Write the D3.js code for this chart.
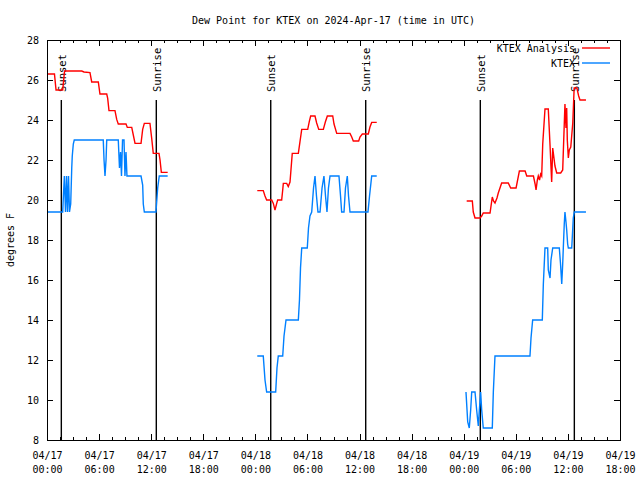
<!DOCTYPE html>
<html><head><meta charset="utf-8">
<script src="https://cdn.jsdelivr.net/npm/d3@7"></script>
<style>
body{margin:0;background:#fff;}
svg{display:block;font-family:"DejaVu Sans Mono",monospace;font-size:10px;}
</style></head>
<body><svg id="c" width="640" height="480"></svg>
<script>
// ---- data (hours after 2024-04-17 00:00 UTC, dew point in deg F); null = gap ----
const anaHours = [0,0.86,1.04,1.81,2.02,4.0,4.26,4.95,5.15,5.91,6.1,6.88,6.99,7.14,7.83,8.03,8.21,9.1,9.25,9.76,9.94,10.14,10.83,11.02,11.21,11.86,12.06,12.24,12.9,13.02,13.17,13.9,
  13.95,
  24.22,24.91,25.11,25.3,25.88,26.07,26.26,26.46,26.57,27.03,27.15,27.22,27.61,27.79,27.99,28.1,28.25,28.95,29.14,29.34,30.03,30.21,30.37,30.87,31.06,31.3,31.83,32.06,32.29,32.91,33.06,33.37,34.9,35.1,35.28,35.9,36.05,36.32,37.01,37.2,37.4,37.98,
  38.0,
  48.34,48.99,49.1,49.3,49.87,50.07,50.25,51.03,51.29,51.43,51.6,51.83,51.98,52.37,53.13,53.41,54.03,54.41,55.07,55.26,56.03,56.22,56.33,56.48,56.59,56.73,56.86,56.98,57.1,57.36,57.74,57.94,58.13,58.25,58.51,58.71,59.17,59.4,59.66,59.78,59.86,59.93,60.05,60.16,60.33,60.56,60.72,61.03,61.24,61.39,62.08];
const anaDew = [26.3,26.3,25.5,25.5,26.45,26.45,26.4,26.37,25.9,25.9,25.3,25.3,25.08,24.47,24.47,24.03,23.8,23.8,23.63,23.63,23.25,22.83,22.83,23.53,23.83,23.83,23.08,22.33,22.33,22.0,21.38,21.38,
  null,
  20.47,20.47,20.2,20.0,20.0,19.83,19.5,19.83,20.0,20.0,20.5,20.83,20.83,20.67,20.9,21.5,22.33,22.33,22.92,23.53,23.53,23.92,24.2,24.2,23.85,23.53,23.53,23.9,24.2,24.2,23.8,23.33,23.33,23.15,22.95,22.95,23.15,23.3,23.3,23.65,23.88,23.88,
  null,
  19.95,19.95,19.4,19.1,19.1,19.2,19.35,19.35,20.15,19.95,19.85,20.1,20.35,20.85,20.85,20.6,20.6,21.45,21.45,21.2,21.2,20.8,20.5,21.0,21.2,21.0,21.3,21.2,22.8,24.55,24.55,22.75,20.9,22.6,21.7,21.35,21.35,21.5,24.8,23.6,24.6,23.0,22.1,22.5,22.65,23.85,25.6,25.6,25.2,25.0,25.0];

const obsHours = [0,1.81,1.9,2.0,2.13,2.25,2.36,2.48,2.59,2.73,2.85,2.91,3.03,3.14,6.48,6.57,6.68,6.8,6.88,8.21,8.35,8.47,8.58,8.7,8.87,8.98,9.1,9.21,10.83,11.02,11.09,11.21,12.55,12.75,12.93,13.9,
  13.95,
  24.22,24.91,25.11,25.3,26.34,26.49,26.64,27.15,27.3,27.53,28.95,29.08,29.2,29.34,29.98,30.12,30.29,30.49,30.7,30.87,31.04,31.21,31.45,31.68,31.9,32.08,32.25,32.42,32.6,33.63,33.81,33.94,34.21,34.38,34.59,34.73,34.9,36.97,37.15,37.4,37.98,
  38.0,
  48.26,48.38,48.46,48.64,48.8,48.92,49.3,49.49,49.68,49.8,49.95,50.07,50.25,51.29,51.41,51.6,55.63,55.75,55.94,57.05,57.17,57.36,57.67,57.74,57.94,58.05,58.25,59.01,59.15,59.29,59.4,59.47,59.58,59.66,59.78,59.86,59.97,60.05,60.44,60.56,60.62,60.74,62.08];
const obsDew = [19.4,19.4,20.3,21.2,19.4,21.2,19.4,21.2,19.4,19.8,21.6,22.2,22.8,23.0,23.0,22.0,21.2,22.0,23.0,23.0,21.6,22.4,21.2,23.0,23.0,21.2,22.4,21.2,21.2,20.75,19.8,19.4,19.4,20.6,21.2,21.2,
  null,
  12.2,12.2,11.0,10.4,10.4,11.6,12.2,12.2,13.2,14.0,14.0,15.0,16.6,17.6,17.6,18.6,19.2,19.4,20.6,21.2,20.2,19.4,19.4,20.6,21.2,20.2,19.4,20.6,21.2,21.2,20.2,19.4,19.4,20.6,21.2,20.2,19.4,19.4,20.2,21.2,21.2,
  null,
  10.4,9.5,8.9,8.6,9.5,10.4,10.4,9.5,8.7,9.5,10.4,9.5,8.6,8.6,10.4,12.2,12.2,13.1,14.0,14.0,15.8,17.6,17.6,16.5,16.1,17.0,17.6,17.6,16.8,15.8,16.8,17.6,18.8,19.4,18.9,18.5,17.8,17.6,17.6,18.6,19.1,19.4,19.4];

const sunsetHours = [1.65, 25.77, 49.91];
const sunriseHours = [12.59, 36.71, 60.74];
const yTicks = [8,10,12,14,16,18,20,22,24,26,28];
const xTickHours = [0,6,12,18,24,30,36,42,48,54,60,66];
const seriesNames = ["KTEX Analysis","KTEX"];
const seriesColors = ["#ff0000","#0080ff"];
const titleText = "Dew Point for KTEX on 2024-Apr-17 (time in UTC)";
const yLabel = "degrees F";

// ---- chart ----
const svg = d3.select("#c");
const t0 = Date.UTC(2024,3,17,0,0);
const toDate = h => new Date(t0 + h*3600e3);
const L=47, R=620, T=40, B=440;
const FS = "10px";
const x = d3.scaleUtc().domain([toDate(0), toDate(66)]).range([L,R]);
const y = d3.scaleLinear().domain([8,28]).range([B,T]);

// ticks (gnuplot style, inward, mirrored)
const minorHours = d3.range(0,66.01,1.5).filter(h => h%6!==0);
const tk = svg.append("g").attr("stroke","#000").attr("stroke-width",1).attr("shape-rendering","crispEdges");
xTickHours.forEach(h=>{
  const px = Math.round(x(toDate(h)))+0.5;
  tk.append("line").attr("x1",px).attr("x2",px).attr("y1",B).attr("y2",B-6);
  tk.append("line").attr("x1",px).attr("x2",px).attr("y1",T).attr("y2",T+6);
});
minorHours.forEach(h=>{
  const px = Math.round(x(toDate(h)))+0.5;
  tk.append("line").attr("x1",px).attr("x2",px).attr("y1",B).attr("y2",B-3);
  tk.append("line").attr("x1",px).attr("x2",px).attr("y1",T).attr("y2",T+3);
});
yTicks.forEach(v=>{
  const py = Math.round(y(v))+0.5;
  tk.append("line").attr("x1",L).attr("x2",L+6).attr("y1",py).attr("y2",py);
  tk.append("line").attr("x1",R).attr("x2",R-6).attr("y1",py).attr("y2",py);
});

// axis labels via d3 axes (tick lines hidden)
const fmtD = d3.utcFormat("%m/%d"), fmtT = d3.utcFormat("%H:%M");
const xAxis = svg.append("g").attr("transform",`translate(0,${B})`)
  .call(d3.axisBottom(x).tickValues(xTickHours.map(toDate)).tickSize(0).tickFormat(""));
xAxis.select(".domain").remove();
xAxis.selectAll(".tick").each(function(d){
  const g = d3.select(this);
  g.select("text").remove();
  const t = g.append("text").attr("fill","#000").attr("text-anchor","middle")
    .attr("font-size",FS).attr("font-family","DejaVu Sans Mono");
  t.append("tspan").attr("x",0).attr("y",19).text(fmtD(d));
  t.append("tspan").attr("x",0).attr("y",33).text(fmtT(d));
});
const yAxis = svg.append("g").attr("transform",`translate(${L},0)`)
  .call(d3.axisLeft(y).tickValues(yTicks).tickSize(0).tickPadding(8).tickFormat(d3.format("d")));
yAxis.select(".domain").remove();
yAxis.selectAll("text").attr("font-family","DejaVu Sans Mono").attr("font-size",FS).attr("fill","#000");

// sunset / sunrise markers
const ev = [...sunsetHours.map(h=>({h,l:"Sunset"})), ...sunriseHours.map(h=>({h,l:"Sunrise"}))];
ev.forEach(e=>{
  const px = x(toDate(e.h));
  svg.append("line").attr("x1",px).attr("x2",px).attr("y1",y(25)).attr("y2",y(8))
    .attr("stroke","#000").attr("stroke-width",1.4);
  svg.append("text").attr("transform",`translate(${px+4.5},${y(25.4)}) rotate(-90)`)
    .attr("font-size","10.5px").attr("fill","#000").text(e.l);
});

// data lines
const line = d3.line().defined(d=>d.v!==null).x(d=>x(toDate(d.h))).y(d=>y(d.v));
const anaData = anaHours.map((h,i)=>({h,v:anaDew[i]}));
const obsData = obsHours.map((h,i)=>({h,v:obsDew[i]}));
svg.append("path").datum(anaData).attr("d",line).attr("fill","none")
  .attr("stroke",seriesColors[0]).attr("stroke-width",1.4);
svg.append("path").datum(obsData).attr("d",line).attr("fill","none")
  .attr("stroke",seriesColors[1]).attr("stroke-width",1.4);

// border
svg.append("rect").attr("x",L+0.5).attr("y",T+0.5).attr("width",R-L).attr("height",B-T)
  .attr("fill","none").attr("stroke","#000").attr("stroke-width",1).attr("shape-rendering","crispEdges");

// legend
seriesNames.forEach((n,i)=>{
  const ly = 48 + i*15;
  svg.append("text").attr("x",575).attr("y",ly+4).attr("text-anchor","end")
    .attr("font-size",FS).attr("fill","#000").text(n);
  svg.append("line").attr("x1",582).attr("x2",610).attr("y1",ly).attr("y2",ly)
    .attr("stroke",seriesColors[i]).attr("stroke-width",1.4);
});

// title and y label
svg.append("text").attr("x",(L+R)/2).attr("y",24).attr("text-anchor","middle")
  .attr("font-size",FS).attr("fill","#000").text(titleText);
svg.append("text").attr("transform",`translate(14,240) rotate(-90)`).attr("text-anchor","middle")
  .attr("font-size",FS).attr("fill","#000").text(yLabel);
</script></body></html>
